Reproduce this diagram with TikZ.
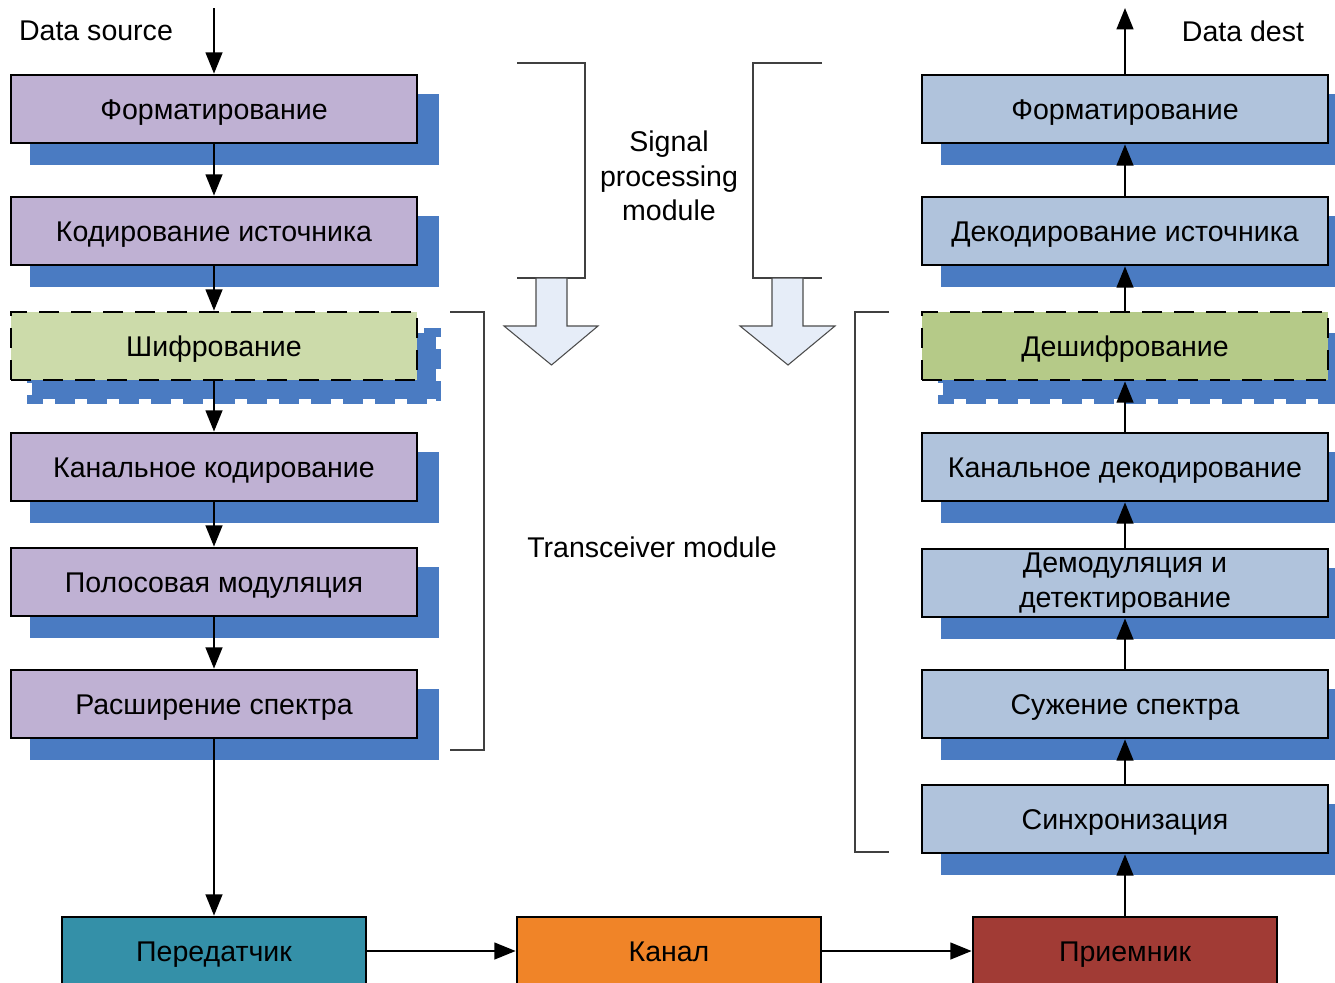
\documentclass[tikz,border=0pt]{standalone}
\usepackage{fontspec}
\setmainfont{Liberation Sans}
\usetikzlibrary{arrows.meta,backgrounds}
\definecolor{purp}{HTML}{BFB1D3}
\definecolor{lblue}{HTML}{B0C3DC}
\definecolor{shadowblue}{HTML}{4A7BC2}
\definecolor{greenL}{HTML}{CCDBAA}
\definecolor{greenR}{HTML}{B5CA88}
\definecolor{tealc}{HTML}{3490A8}
\definecolor{orangec}{HTML}{F08428}
\definecolor{redc}{HTML}{A13B35}
\definecolor{arrowfill}{HTML}{E6EDF8}
\begin{document}
\begin{tikzpicture}[x=0.75pt,y=-0.75pt,
  boxbase/.style={draw=black, line width=2pt, minimum width=304.5pt, minimum height=51pt, inner sep=0pt, font=\fontsize{21.4}{26}\selectfont, align=center},
  box/.style={boxbase, text height=17pt, text depth=2pt},
  dbox/.style={box, dash pattern=on 15pt off 9pt},
  bbox/.style={box, minimum width=228pt},
  conn/.style={line width=1.8pt, -{Triangle[length=16pt,width=12.5pt]}},
  brk/.style={draw=black!75, line width=0.8pt},
  bigarrow/.style={draw=black!70, fill=arrowfill, line width=0.8pt},
  lbl/.style={font=\fontsize{21.4}{26}\selectfont, align=center, inner sep=0pt}]
\useasboundingbox (0,0) rectangle (1335,982);
\clip (0,0) rectangle (1335,982);

% left column
\node[box, fill=purp] (L1) at (214,109) {Форматирование};
\node[box, fill=purp] (L2) at (214,231) {Кодирование источника};
\node[dbox, fill=greenL] (L3) at (214,346) {Шифрование};
\node[box, fill=purp] (L4) at (214,467) {Канальное кодирование};
\node[box, fill=purp] (L5) at (214,582) {Полосовая модуляция};
\node[box, fill=purp] (L6) at (214,704) {Расширение спектра};

% right column
\node[box, fill=lblue] (R1) at (1125,109) {Форматирование};
\node[box, fill=lblue] (R2) at (1125,231) {Декодирование источника};
\node[dbox, fill=greenR] (R3) at (1125,346) {Дешифрование};
\node[box, fill=lblue] (R4) at (1125,467) {Канальное декодирование};
\node[boxbase, fill=lblue] (R5) at (1125,583) {Демодуляция и\\детектирование};
\node[box, fill=lblue] (R6) at (1125,704) {Сужение спектра};
\node[box, fill=lblue] (R7) at (1125,819) {Синхронизация};

% bottom row
\node[bbox, fill=tealc] (T) at (214,951) {Передатчик};
\node[bbox, fill=orangec] (K) at (669,951) {Канал};
\node[bbox, fill=redc] (P) at (1125,951) {Приемник};

% shadows
\begin{scope}[on background layer]
\foreach \n in {L1,L2,L4,L5,L6,R1,R2,R4,R5,R6,R7}
  \fill[shadowblue] ([shift={(20,20)}]\n.north west) rectangle ([shift={(21,21)}]\n.south east);
\foreach \n in {L3,R3}{
  \fill[shadowblue] ([shift={(22,22)}]\n.north west) rectangle ([shift={(18,18)}]\n.south east);
  \draw[shadowblue, line width=3.5pt, dash pattern=on 15pt off 9pt] ([shift={(20,20)}]\n.north west) rectangle ([shift={(20,20)}]\n.south east);
}
\end{scope}

% labels
\node[lbl] (dsrc) at (96,31) {Data source};
\node[lbl] (ddst) at (1243,31) {Data dest};
\node[lbl] (spm) at (669,176) {Signal\\processing\\module};
\node[lbl] (trm) at (652,547) {Transceiver module};
\coordinate (srcIn) at (214,8);
\coordinate (dstOut) at (1125,8);

% connectors
\draw[conn] (srcIn) -- (L1);
\draw[conn] (L1) -- (L2);
\draw[conn] (L2) -- (L3);
\draw[conn] (L3) -- (L4);
\draw[conn] (L4) -- (L5);
\draw[conn] (L5) -- (L6);
\draw[conn] (L6) -- (T);
\draw[conn] (T) -- (K);
\draw[conn] (K) -- (P);
\draw[conn] (P) -- (R7);
\draw[conn] (R7) -- (R6);
\draw[conn] (R6) -- (R5);
\draw[conn] (R5) -- (R4);
\draw[conn] (R4) -- (R3);
\draw[conn] (R3) -- (R2);
\draw[conn] (R2) -- (R1);
\draw[conn] (R1) -- (dstOut);

% brackets
\draw[brk] (517,63) -- (585,63) -- (585,278) -- (517,278);
\draw[brk] (822,63) -- (753,63) -- (753,278) -- (822,278);
\draw[brk] (450,312) -- (484,312) -- (484,750) -- (450,750);
\draw[brk] (889,312) -- (855,312) -- (855,852) -- (889,852);

% big hollow arrows
\draw[bigarrow] (536,278) -- (567,278) -- (567,326) -- (598,326) -- (551.5,365) -- (504,326) -- (536,326) -- cycle;
\draw[bigarrow] (772,278) -- (803,278) -- (803,326) -- (835,326) -- (788,365) -- (740,326) -- (772,326) -- cycle;
\end{tikzpicture}
\end{document}
